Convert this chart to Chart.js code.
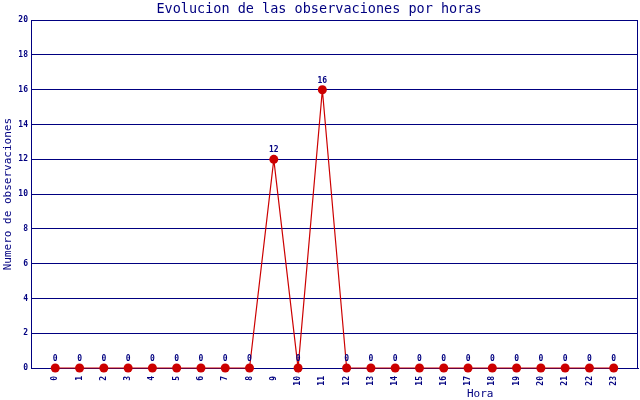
<!DOCTYPE html>
<html>
<head>
<meta charset="utf-8">
<script src="https://cdn.jsdelivr.net/npm/chart.js@4.4.0/dist/chart.umd.min.js"></script>
<style>
html, body { margin: 0; padding: 0; background: #fff; }
#wrap { width: 640px; height: 400px; }
</style>
</head>
<body>
<div id="wrap"><canvas id="chart" width="640" height="400"></canvas></div>
<script>
// Data
const hours = ['0','1','2','3','4','5','6','7','8','9','10','11','12','13','14','15','16','17','18','19','20','21','22','23'];
const observaciones = [0,0,0,0,0,0,0,0,0,12,0,16,0,0,0,0,0,0,0,0,0,0,0,0];
const yTicks = [0,2,4,6,8,10,12,14,16,18,20];

const navy = '#000080';
const red = '#cc0000';
const mono = '"DejaVu Sans Mono", "Liberation Mono", monospace';

// value labels above each point
const valueLabels = {
  id: 'valueLabels',
  afterDatasetsDraw(chart) {
    const ctx = chart.ctx;
    const meta = chart.getDatasetMeta(0);
    ctx.save();
    ctx.fillStyle = navy;
    ctx.font = 'bold 8px ' + mono;
    ctx.textAlign = 'center';
    ctx.textBaseline = 'bottom';
    meta.data.forEach((pt, i) => {
      ctx.fillText(String(observaciones[i]), pt.x, pt.y - 5);
    });
    ctx.restore();
  }
};

// right border of the plot + x axis title (sits right of centre)
const frame = {
  id: 'frame',
  beforeDatasetsDraw(chart) {
    const a = chart.chartArea;
    const ctx = chart.ctx;
    ctx.save();
    ctx.strokeStyle = navy;
    ctx.lineWidth = 1;
    ctx.beginPath();
    ctx.moveTo(Math.round(a.right) - 0.5, a.top);
    ctx.lineTo(Math.round(a.right) - 0.5, a.bottom);
    ctx.stroke();
    ctx.fillStyle = navy;
    ctx.font = '11px ' + mono;
    ctx.textAlign = 'center';
    ctx.textBaseline = 'middle';
    ctx.fillText('Hora', a.left + (a.right - a.left) * 0.74, 394);
    ctx.restore();
  }
};

const ctx = document.getElementById('chart').getContext('2d');
new Chart(ctx, {
  type: 'line',
  data: {
    datasets: [{
      data: observaciones.map((v, i) => ({ x: i, y: v })),
      borderColor: red,
      backgroundColor: red,
      borderWidth: 1.2,
      pointRadius: 4.5,
      pointHoverRadius: 4.5,
      pointBackgroundColor: red,
      pointBorderColor: red,
      pointBorderWidth: 0,
      tension: 0,
      clip: false
    }]
  },
  plugins: [valueLabels, frame],
  options: {
    responsive: false,
    animation: false,
    events: [],
    layout: { autoPadding: false, padding: { left: 0, right: 2, top: 0, bottom: 0 } },
    plugins: {
      legend: { display: false },
      tooltip: { enabled: false },
      title: {
        display: true,
        text: 'Evolucion de las observaciones por horas',
        color: navy,
        font: { family: mono, size: 13.5, weight: 'normal' },
        padding: { top: 1, bottom: 3 }
      }
    },
    scales: {
      x: {
        type: 'linear',
        min: -1,
        max: 24,
        afterBuildTicks(scale) {
          scale.ticks = hours.map((h, i) => ({ value: i }));
        },
        afterFit(scale) {
          scale.height = 32;
        },
        ticks: {
          autoSkip: false,
          maxRotation: 90,
          minRotation: 90,
          color: navy,
          padding: 8,
          font: { family: mono, size: 8, weight: 'bold' },
          callback: (v) => hours[v] !== undefined ? hours[v] : ''
        },
        grid: { display: false, drawTicks: false },
        border: { color: navy, width: 1 }
      },
      y: {
        min: 0,
        max: 20,
        afterBuildTicks(scale) {
          scale.ticks = yTicks.map(v => ({ value: v }));
        },
        afterFit(scale) { scale.width = 31; },
        ticks: {
          color: navy,
          padding: 3,
          font: { family: mono, size: 8, weight: 'bold' }
        },
        grid: { color: navy, lineWidth: 1, drawTicks: false },
        border: { color: navy, width: 1 },
        title: {
          display: true,
          text: 'Numero de observaciones',
          color: navy,
          font: { family: mono, size: 11 },
          padding: { top: 2, bottom: 0 }
        }
      }
    }
  }
});
</script>
</body>
</html>
